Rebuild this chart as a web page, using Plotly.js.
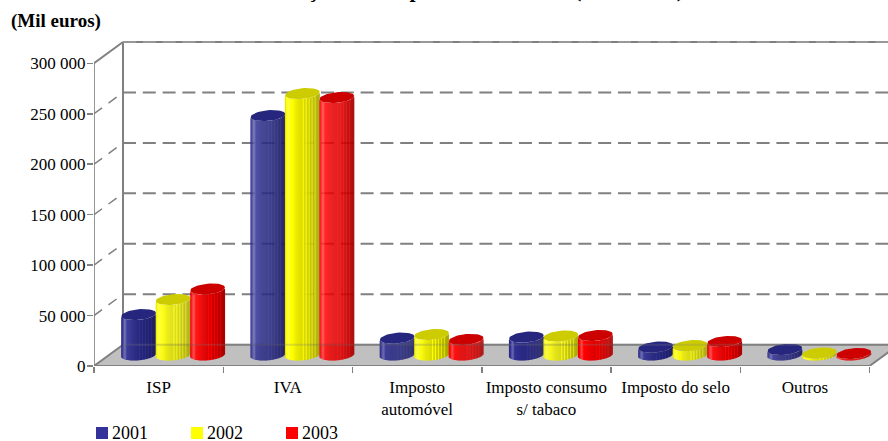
<!DOCTYPE html>
<html>
<head>
<meta charset="utf-8">
<script src="https://cdn.plot.ly/plotly-3.0.1.min.js"></script>
<style>html,body{margin:0;padding:0;background:#fff;overflow:hidden}</style>
</head>
<body>
<div id="chart" style="width:888px;height:441px"></div>
<script>
// Indirect tax revenue by category, thousand euros
const categories = ['ISP', 'IVA', 'Imposto<br>automóvel', 'Imposto consumo<br>s/ tabaco', 'Imposto do selo', 'Outros'];
const years = ['2001', '2002', '2003'];
const values2001 = [40100, 237300, 16800, 17800, 7900, 5500];
const values2002 = [55000, 259100, 20300, 18800, 9400, 2000];
const values2003 = [65400, 255200, 15400, 19300, 13400, 1500];
const yTickValues = [0, 50000, 100000, 150000, 200000, 250000, 300000];
const yTickLabels = ['0', '50 000', '100 000', '150 000', '200 000', '250 000', '300 000'];

const seriesValues = [values2001, values2002, values2003];
const sideColors = [[47, 47, 146], [255, 255, 0], [255, 0, 0]];
const capColors = ['#26267f', '#cccc00', '#cc0000'];
const legendColors = ['#333399', '#ffff00', '#ff0000'];

// Perspective of the box: how far the back wall sits from the front axes
const depthX = 0.2244, depthY = 21100;
// Cylinder proportions in axis units
const radiusX = 0.134, radiusY = 5300, tilt = 1500, floorLevel = 10900, cylinderStep = 0.267;
const xEnd = 794 / 129.25, yEnd = 333000, catCount = categories.length;

// Cross-section shading of a cylinder, left edge to right edge
const shades = [0.9, 1, 1.15, 1.25, 1.2, 1.05, 1, 1, 0.98, 0.96, 0.94, 0.92, 0.91, 0.9, 0.89, 0.88, 0.87, 0.86, 1,
  0.85, 0.83, 1, 0.81, 0.79, 0.96, 0.77, 0.75, 0.92, 0.73, 0.71, 0.88, 0.7, 0.68, 0.66, 0.68];

function shadeColor(rgb, f) {
  const c = f <= 1 ? rgb.map(v => v * f) : rgb.map(v => v + (255 - v) * (f - 1));
  return 'rgb(' + c.map(Math.round).join(',') + ')';
}
const centre = (cat, s) => cat + 0.5 + depthX / 2 + (s - 1) * cylinderStep;

const traces = [];
seriesValues.forEach((vals, s) => {
  const x = [], y = [], base = [], color = [];
  vals.forEach((v, cat) => {
    shades.forEach((f, k) => {
      const u = ((k + 0.5) / shades.length) * 2 - 1;
      x.push(centre(cat, s) + u * radiusX);
      y.push(v);
      base.push(floorLevel + tilt * u - radiusY * Math.sqrt(1 - u * u));
      color.push(shadeColor(sideColors[s], f));
    });
  });
  traces.push({type: 'bar', x, y, base, width: 2.5 * radiusX / shades.length,
    marker: {color, line: {width: 0}}, hoverinfo: 'skip', showlegend: false});
});
seriesValues.forEach((vals, s) => {
  const x = [], y = [];
  vals.forEach((v, cat) => {
    for (let i = 0; i <= 48; i++) {
      const t = (i / 48) * 2 * Math.PI;
      x.push(centre(cat, s) + radiusX * Math.cos(t));
      y.push(floorLevel + v + tilt * Math.cos(t) + radiusY * Math.sin(t));
    }
    x.push(null); y.push(null);
  });
  traces.push({type: 'scatter', mode: 'lines', x, y, fill: 'toself', fillcolor: capColors[s],
    line: {width: 0, color: capColors[s]}, hoverinfo: 'skip', showlegend: false});
});

const grey = '#808080', dash = '13px,6.8px';
const seg = (x0, y0, x1, y1, extra) => Object.assign({type: 'line', xref: 'x', yref: 'y', x0, y0, x1, y1, layer: 'below',
  line: {color: grey, width: 2}}, extra || {});
const shapes = [
  {type: 'path', xref: 'x', yref: 'y', layer: 'below', fillcolor: '#c0c0c0', line: {width: 0},
    path: `M0,0 L${depthX},${depthY} L${catCount + depthX},${depthY} L${catCount},0 Z`},
  seg(0, 0, 0, 300000, {line: {color: '#969696', width: 2}}), seg(depthX, depthY, depthX, 300000 + depthY),
  seg(0, 0, catCount, 0), seg(0, 0, depthX, depthY), seg(catCount, 0, catCount + depthX, depthY),
  seg(depthX, depthY, xEnd, depthY), seg(0, 300000, depthX, 300000 + depthY),
  seg(depthX, 300000 + depthY, xEnd, 300000 + depthY),
  seg(depthX, 300000 + depthY, xEnd, 300000 + depthY, {line: {color: '#b0b0b0', width: 1, dash}}),
  seg(depthX, depthY, xEnd, depthY, {layer: 'above', opacity: 0.25})
];
yTickValues.slice(1, -1).forEach(v => {
  shapes.push(seg(0, v, depthX, v + depthY, {line: {color: grey, width: 1.5, dash: '10px,8px'}}));
  shapes.push(seg(depthX, v + depthY, xEnd, v + depthY, {line: {color: grey, width: 2, dash}}));
});

// Legend row under the axis
const legendLeft = [96, 191, 286];
const annotations = [
  {text: '<b>(Mil euros)</b>', xref: 'paper', yref: 'paper', x: 0, y: 1, xanchor: 'left', yanchor: 'bottom',
    xshift: -85, yshift: -4, showarrow: false, font: {size: 19, color: '#000'}},
  {text: '<b>Evolução dos Impostos Indirectos (2001-2003)</b>', xref: 'paper', yref: 'paper', x: 0, y: 1,
    xanchor: 'center', yanchor: 'bottom', xshift: 374, yshift: 26, showarrow: false, font: {size: 22, color: '#000'}}
];
years.forEach((yr, i) => {
  shapes.push({type: 'rect', xref: 'paper', yref: 'paper', x0: (legendLeft[i] - 94) / 794, x1: (legendLeft[i] + 12 - 94) / 794,
    y0: (366 - 439) / 336, y1: (366 - 427) / 336, fillcolor: legendColors[i], line: {width: 0}});
  annotations.push({text: yr, xref: 'paper', yref: 'paper', x: (legendLeft[i] + 14 - 94) / 794, y: (366 - 433) / 336,
    xanchor: 'left', yanchor: 'middle', showarrow: false, font: {size: 18, color: '#000'}});
});

const layout = {
  width: 888, height: 441, margin: {l: 94, r: 0, t: 30, b: 75, pad: 0},
  paper_bgcolor: '#fff', plot_bgcolor: 'rgba(0,0,0,0)', barmode: 'overlay', showlegend: false,
  font: {family: '"Liberation Serif", serif', color: '#000', size: 17},
  xaxis: {range: [0, xEnd], tickmode: 'array', tickvals: categories.map((_, i) => i + 0.5), ticktext: categories,
    ticks: '', showgrid: false, zeroline: false, showline: false, tickangle: 0, ticklabelstandoff: 9,
    minor: {tickmode: 'array', tickvals: categories.map((_, i) => i).concat(catCount), ticks: 'outside', ticklen: 6, tickwidth: 1.5, tickcolor: grey, showgrid: false},
    tickfont: {size: 17}},
  yaxis: {range: [0, yEnd], tickmode: 'array', tickvals: yTickValues, ticktext: yTickLabels, ticks: 'outside', ticklen: 6,
    tickwidth: 1.5, tickcolor: grey, ticklabelstandoff: -2, showgrid: false, zeroline: false, showline: false, tickfont: {size: 17}},
  shapes, annotations
};
Plotly.newPlot('chart', traces, layout, {displayModeBar: false, staticPlot: true});
</script>
</body>
</html>
